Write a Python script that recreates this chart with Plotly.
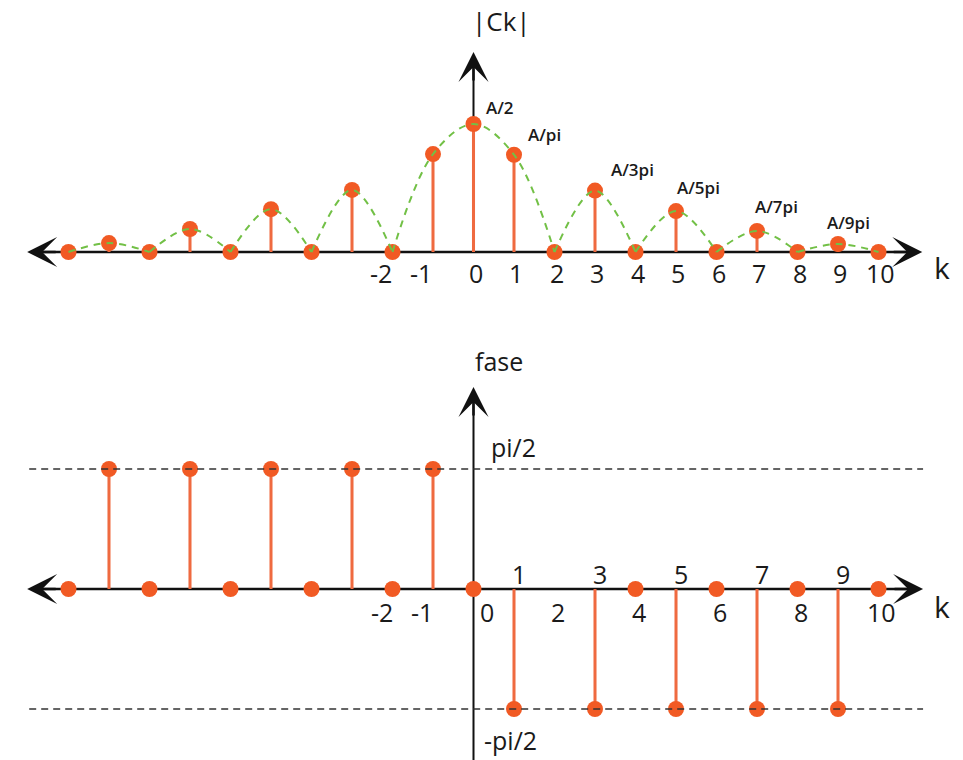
import math
import plotly.graph_objects as go

# ---- data -----------------------------------------------------------------
k = list(range(-10, 11))

# |Ck| (relative height, A/2 = 1)
mag = [0, 0.07, 0, 0.18, 0, 0.335, 0, 0.485, 0, 0.765,
       1.0,
       0.76, 0, 0.48, 0, 0.32, 0, 0.165, 0, 0.0625, 0]

HALF_PI = math.pi / 2
# phase of Ck in radians (no sample drawn at k = 2)
phase = [0, HALF_PI, 0, HALF_PI, 0, HALF_PI, 0, HALF_PI, 0, HALF_PI,
         0,
         -HALF_PI, None, -HALF_PI, 0, -HALF_PI, 0, -HALF_PI, 0, -HALF_PI, 0]

mag_label_k = [0, 1, 3, 5, 7, 9]
mag_label_text = ["A/2", "A/pi", "A/3pi", "A/5pi", "A/7pi", "A/9pi"]

top_tick_vals = [-2, -1, 0, 1, 2, 3, 4, 5, 6, 7, 8, 9, 10]
bot_tick_below = [-2, -1, 0, 2, 4, 6, 8, 10]
bot_tick_above = [1, 3, 5, 7, 9]

# ---- styling --------------------------------------------------------------
DOT = "#F15A24"
STEM = "#EF6A40"
GREEN = "#72C046"
AXIS = "#111111"
DASH = "#333333"
FONT = "Open Sans"

X_RANGE = [-11.691, 12.086]
SPLIT = 0.5789
TOP_RANGE = [-0.53125, 1.96875]
BOT_RANGE = [-2.2384, 3.5212]

# envelope: one smooth arc per lobe, lobes separated by the zeros of |Ck|
zeros = [i for i, v in enumerate(mag) if v == 0]
env_x, env_y = [], []
for a, b in zip(zeros[:-1], zeros[1:]):
    env_x += k[a:b + 1] + [None]
    env_y += mag[a:b + 1] + [None]

fig = go.Figure()

# magnitude spectrum
fig.add_trace(go.Bar(x=k, y=mag, width=0.075, marker=dict(color=STEM, line=dict(width=0)),
                     xaxis="x", yaxis="y"))
fig.add_trace(go.Scatter(x=k, y=mag, mode="markers", marker=dict(size=16, color=DOT),
                         xaxis="x", yaxis="y"))
fig.add_trace(go.Scatter(x=env_x, y=env_y, mode="lines", connectgaps=False,
                         line=dict(color=GREEN, width=2, dash="7px,6px", shape="spline", smoothing=1),
                         xaxis="x", yaxis="y"))

# phase spectrum
fig.add_trace(go.Bar(x=k, y=phase, width=0.075, marker=dict(color=STEM, line=dict(width=0)),
                     xaxis="x2", yaxis="y2"))
fig.add_trace(go.Scatter(x=k, y=phase, mode="markers", marker=dict(size=16, color=DOT),
                         xaxis="x2", yaxis="y2"))

shapes = [
    # magnitude axes
    dict(type="line", xref="x", yref="y", x0=-10.7, x1=10.7, y0=0, y1=0,
         line=dict(color=AXIS, width=2.5), layer="below"),
    dict(type="line", xref="x", yref="y", x0=0, x1=0, y0=0, y1=1.45,
         line=dict(color=AXIS, width=2), layer="below"),
    # phase axes
    dict(type="line", xref="x2", yref="y2", x0=-10.7, x1=10.7, y0=0, y1=0,
         line=dict(color=AXIS, width=2.5), layer="below"),
    dict(type="line", xref="x2", yref="y2", x0=0, x1=0, y0=BOT_RANGE[0], y1=2.5,
         line=dict(color=AXIS, width=2), layer="below"),
    # +-pi/2 guides
    dict(type="line", xref="x2", yref="y2", x0=-10.97, x1=11.1, y0=HALF_PI, y1=HALF_PI,
         line=dict(color=DASH, width=1.5, dash="7px,5px"), layer="above"),
    dict(type="line", xref="x2", yref="y2", x0=-10.97, x1=11.1, y0=-HALF_PI, y1=-HALF_PI,
         line=dict(color=DASH, width=1.5, dash="7px,5px"), layer="above"),
]

annotations = []


def arrow_head(xref, yref, x, y, ax, ay):
    annotations.append(dict(xref=xref, yref=yref, x=x, y=y, ax=ax, ay=ay,
                            axref="pixel", ayref="pixel", text="", showarrow=True,
                            arrowhead=3, arrowsize=2.0, arrowwidth=2.5,
                            arrowcolor=AXIS, standoff=0))


arrow_head("x", "y", 11.08, 0, -30, 0)
arrow_head("x", "y", -11.02, 0, 30, 0)
arrow_head("x", "y", 0, 1.5625, 0, 30)
arrow_head("x2", "y2", 11.1, 0, -30, 0)
arrow_head("x2", "y2", -11.02, 0, 30, 0)
arrow_head("x2", "y2", 0, 2.644, 0, 30)


def text(xref, yref, x, y, s, size=25, xanchor="center", xshift=0, yshift=0, weight=None):
    f = dict(family=FONT, size=size, color="#1a1a1a")
    if weight:
        f["weight"] = weight
    annotations.append(dict(xref=xref, yref=yref, x=x, y=y, text=s, showarrow=False,
                            xanchor=xanchor, yanchor="middle", xshift=xshift, yshift=yshift,
                            font=f))


# k tick labels, magnitude panel
for v in top_tick_vals:
    text("x", "y", v, 0, str(v), xshift=(-12 if v < 0 else 2), yshift=-21)

# k tick labels, phase panel
for v in bot_tick_below:
    sh = -11 if v < 0 else (13 if v == 0 else 3)
    text("x2", "y2", v, 0, str(v), xshift=sh, yshift=-23)
for v in bot_tick_above:
    text("x2", "y2", v, 0, str(v), xshift=5, yshift=15)

# magnitude value labels
label_offsets = [(26, 17), (30, 20), (37, 21), (22, 24), (19, 24), (10, 22)]
for kk, s, (dx, dy) in zip(mag_label_k, mag_label_text, label_offsets):
    text("x", "y", kk, mag[k.index(kk)], s, size=17, xshift=dx, yshift=dy, weight=600)

# axis titles
text("x", "y", 0, 1.5625, "|Ck|", size=26, xanchor="left", xshift=-4, yshift=31)
text("x", "y", 11.56, 0, "k", size=30, yshift=-15)
text("x2", "y2", 0, 2.985, "fase", size=25, xanchor="left", xshift=-1)
text("x2", "y2", 11.56, 0, "k", size=30, yshift=-17)
text("x2", "y2", 0, HALF_PI, "pi/2", size=25, xanchor="left", xshift=15, yshift=22)
text("x2", "y2", 0, -HALF_PI, "-pi/2", size=25, xanchor="left", xshift=8, yshift=-31)

fig.update_layout(
    width=963, height=760,
    margin=dict(l=0, r=0, t=0, b=0),
    paper_bgcolor="white",
    plot_bgcolor="rgba(0,0,0,0)",
    showlegend=False,
    hovermode=False,
    barmode="overlay",
    xaxis=dict(domain=[0, 1], range=X_RANGE, visible=False, anchor="y"),
    yaxis=dict(domain=[SPLIT, 1], range=TOP_RANGE, visible=False, anchor="x"),
    xaxis2=dict(domain=[0, 1], range=X_RANGE, visible=False, anchor="y2"),
    yaxis2=dict(domain=[0, SPLIT], range=BOT_RANGE, visible=False, anchor="x2"),
    shapes=shapes,
    annotations=annotations,
)

fig.write_html("out.html")
